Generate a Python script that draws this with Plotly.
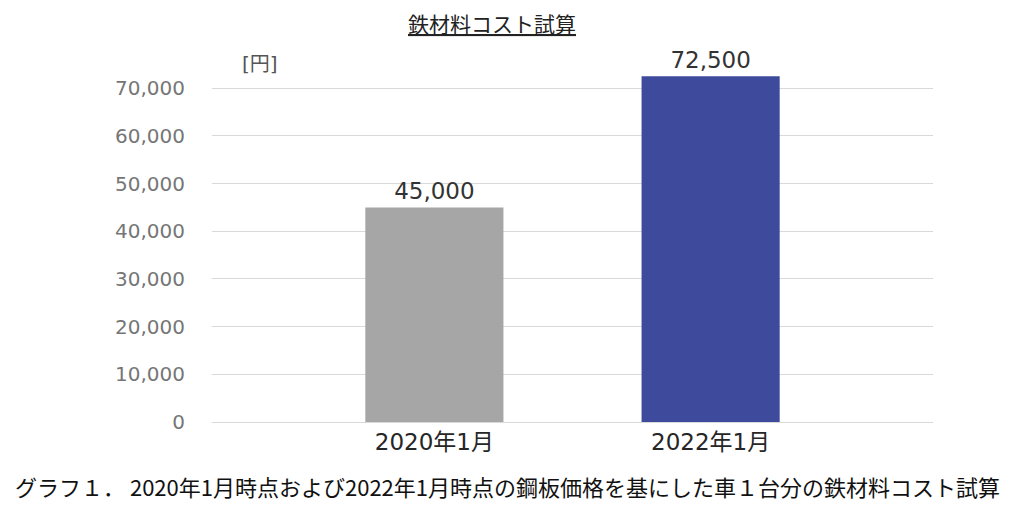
import plotly.graph_objects as go

categories = ["2020年1月", "2022年1月"]
values = [45000, 72500]
bar_colors = ["#a6a6a6", "#3e4b9c"]
title_text = "鉄材料コスト試算"
unit_label = "[円]"
caption = "グラフ１． 2020年1月時点および2022年1月時点の鋼板価格を基にした車１台分の鉄材料コスト試算"

FONT = "DejaVu Sans, Noto Sans CJK JP"
CJK = "Noto Sans CJK JP"

W, H = 1008, 498
L, R, T, B = 204, 83, 42, 84
PW, PH = W - L - R, H - T - B

fig = go.Figure(go.Bar(
    x=categories, y=values, width=0.5,
    marker=dict(color=bar_colors, line=dict(width=0)),
    text=[f"{v:,}" for v in values], textposition="outside",
    textfont=dict(family=FONT, size=23, color="#333333"),
    cliponaxis=False,
))

fig.update_layout(
    width=W, height=H,
    margin=dict(l=L, r=R, t=T, b=B),
    plot_bgcolor="white", paper_bgcolor="white",
    showlegend=False,
    font=dict(family=FONT),
    xaxis=dict(range=[-0.805, 1.805], showgrid=False, showline=False, ticks="",
               ticklabelstandoff=4,
               tickfont=dict(family=FONT, size=23, color="#262626")),
    yaxis=dict(range=[0, 78000], dtick=10000, tickformat=",", showline=False,
               gridcolor="#d9d9d9", gridwidth=1, zeroline=True, zerolinecolor="#d9d9d9",
               zerolinewidth=1, ticks="", ticklabelstandoff=26,
               tickfont=dict(family=FONT, size=20, color="#767676")),
)

fig.add_annotation(text=f"<u>{title_text}</u>", xref="paper", yref="paper",
                   x=(484 - L) / PW, y=(414 - 15) / PH, xanchor="center", yanchor="middle",
                   showarrow=False, font=dict(family=CJK, size=21, color="#222222"))
fig.add_annotation(text=unit_label, xref="paper", yref="paper",
                   x=(252 - L) / PW, y=(414 - 56) / PH, xanchor="center", yanchor="middle",
                   showarrow=False, font=dict(family=FONT, size=20, color="#555555"))
fig.add_annotation(text=caption, xref="paper", yref="paper",
                   x=(499 - L) / PW, y=(414 - 478) / PH, xanchor="center", yanchor="middle",
                   showarrow=False, font=dict(family=CJK, size=22, color="#111111"))

fig.write_html("out.html")
